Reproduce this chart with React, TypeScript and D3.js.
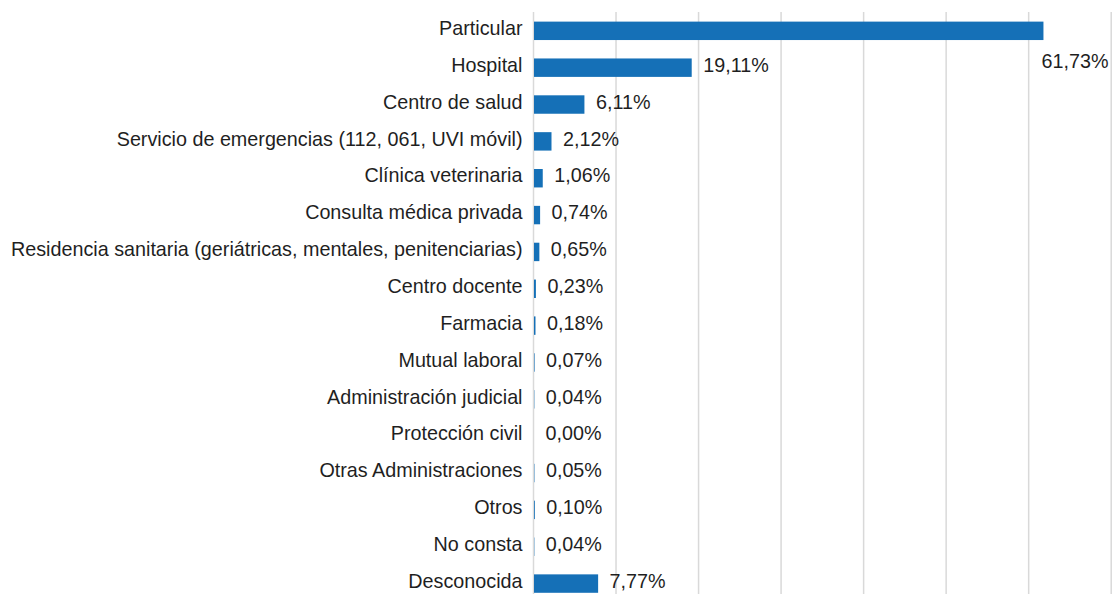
import React from "react";
import * as d3 from "d3";

const categories = [
  "Particular",
  "Hospital",
  "Centro de salud",
  "Servicio de emergencias (112, 061, UVI móvil)",
  "Clínica veterinaria",
  "Consulta médica privada",
  "Residencia sanitaria (geriátricas, mentales, penitenciarias)",
  "Centro docente",
  "Farmacia",
  "Mutual laboral",
  "Administración judicial",
  "Protección civil",
  "Otras Administraciones",
  "Otros",
  "No consta",
  "Desconocida",
];

const values = [61.73, 19.11, 6.11, 2.12, 1.06, 0.74, 0.65, 0.23, 0.18, 0.07, 0.04, 0.0, 0.05, 0.1, 0.04, 7.77];

const gridTicks = [0, 10, 20, 30, 40, 50, 60, 70];

const W = 1112;
const H = 594;
const FONT = "'Liberation Sans', Arial, sans-serif";
const BAR = "#1570B7";
const GRID = "#D9D9D9";
const FS = 19.75;

const fmt = (v: number) => v.toFixed(2).replace(".", ",") + "%";

export default function App() {
  const x = d3.scaleLinear().domain([0, 70]).range([533.5, 1111.2]);
  const y = d3
    .scaleBand<string>()
    .domain(categories)
    .range([12.4, 602])
    .paddingInner(0.5)
    .paddingOuter(0.25);
  const bw = y.bandwidth();
  const step = y.step();

  return (
    <svg
      width={W}
      height={H}
      style={{ position: "absolute", left: 0, top: 0, background: "#fff" }}
      fontFamily={FONT}
    >
      <rect x={0} y={0} width={W} height={H} fill="#fff" />
      {gridTicks.map((t) => (
        <line
          key={t}
          x1={x(t)}
          x2={x(t)}
          y1={12}
          y2={H}
          stroke={GRID}
          strokeWidth={1.5}
        />
      ))}
      {categories.map((c, i) => {
        const v = values[i];
        const cy = (y(c) as number) + bw / 2;
        const end = x(v);
        const label = fmt(v);
        const overflow = end + 12 + 72 > W;
        return (
          <g key={c}>
            <rect x={x(0) + 0.5} y={y(c)} width={Math.max(0, end - x(0))} height={bw} fill={BAR} />
            <text
              x={522.5}
              y={cy + 4.2}
              textAnchor="end"
              fontSize={FS}
              fill="#1f1f1f"
            >
              {c}
            </text>
            <text
              x={overflow ? W - 3.5 : end + 12}
              y={overflow ? cy + step : cy + 4.2}
              textAnchor={overflow ? "end" : "start"}
              fontSize={FS}
              fill="#1f1f1f"
            >
              {label}
            </text>
          </g>
        );
      })}
    </svg>
  );
}
